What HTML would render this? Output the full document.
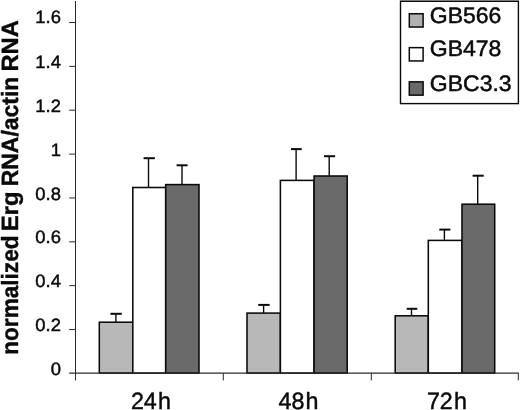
<!DOCTYPE html>
<html><head><meta charset="utf-8"><title>chart</title>
<style>
html,body{margin:0;padding:0;background:#fff;}
body{width:520px;height:410px;overflow:hidden;}
svg{display:block;}
text{font-family:"Liberation Sans",Arial,sans-serif;fill:#0a0a0a;stroke:#0a0a0a;stroke-width:0.45;text-rendering:geometricPrecision;}
.yt text{stroke-width:0.4;}
.lg text{stroke-width:0.5;}
</style></head><body>
<svg width="520" height="410" viewBox="0 0 520 410">
<rect width="520" height="410" fill="#fff"/>
<g stroke="#0a0a0a" stroke-width="1.55">
<rect x="99.3" y="322.2" width="33.5" height="50.9" fill="#b8b8b8"/>
<rect x="132.8" y="187.5" width="32.9" height="185.6" fill="#fff"/>
<rect x="165.7" y="184.6" width="33.3" height="188.5" fill="#6a6a6a"/>
<rect x="247.0" y="313.1" width="33.4" height="60.0" fill="#b8b8b8"/>
<rect x="280.4" y="180.4" width="33.7" height="192.7" fill="#fff"/>
<rect x="314.1" y="176.0" width="33.1" height="197.1" fill="#6a6a6a"/>
<rect x="395.2" y="315.8" width="33.1" height="57.3" fill="#b8b8b8"/>
<rect x="428.3" y="240.4" width="33.7" height="132.7" fill="#fff"/>
<rect x="462.0" y="204.2" width="32.7" height="168.9" fill="#6a6a6a"/>
</g>
<g stroke="#0a0a0a" stroke-width="1.4" fill="none">
<path d="M115.9 322.2V314.2"/>
<path d="M148.5 187.5V158.6"/>
<path d="M182.0 184.6V165.7"/>
<path d="M263.6 313.1V305.3"/>
<path d="M296.1 180.4V149.5"/>
<path d="M329.2 176.0V156.6"/>
<path d="M411.5 315.8V309.2"/>
<path d="M444.4 240.4V230.0"/>
<path d="M477.7 204.2V176.1"/>
</g>
<g stroke="#0a0a0a" stroke-width="2" fill="none">
<path d="M110.4 313.8H121.8"/>
<path d="M143.6 158.2H154.9"/>
<path d="M176.6 165.3H187.6"/>
<path d="M258.2 304.9H269.6"/>
<path d="M291.0 149.1H301.7"/>
<path d="M324.0 156.2H335.1"/>
<path d="M406.7 308.8H417.3"/>
<path d="M439.3 229.6H450.4"/>
<path d="M472.6 175.7H483.7"/>
</g>
<g stroke="#2a2a2a" stroke-width="1" fill="none">
<path d="M75.5 1V380.5"/>
<path d="M69.2 373.1H518.8" stroke-width="1.2"/>
<path d="M223.3 373.1V380.4"/>
<path d="M371.3 373.1V380.4"/>
<path d="M518.3 373.1V380.4"/>
<path d="M69.2 329.52H75.5"/>
<path d="M69.2 285.66H75.5"/>
<path d="M69.2 241.80H75.5"/>
<path d="M69.2 197.94H75.5"/>
<path d="M69.2 154.08H75.5"/>
<path d="M69.2 110.22H75.5"/>
<path d="M69.2 66.36H75.5"/>
<path d="M69.2 22.50H75.5"/>
</g>
<g font-size="17.8" text-anchor="end">
<text transform="translate(60.9 375.0) scale(1.035 1)">0</text>
<text transform="translate(60.9 331.0) scale(1.035 1)">0.2</text>
<text transform="translate(60.9 287.2) scale(1.035 1)">0.4</text>
<text transform="translate(60.9 243.3) scale(1.035 1)">0.6</text>
<text transform="translate(60.9 199.5) scale(1.035 1)">0.8</text>
<text transform="translate(60.9 155.6) scale(1.035 1)">1</text>
<text transform="translate(60.9 111.6) scale(1.035 1)">1.2</text>
<text transform="translate(60.9 67.7) scale(1.035 1)">1.4</text>
<text transform="translate(60.9 23.3) scale(1.035 1)">1.6</text>
</g>
<g font-size="23.6">
<text transform="translate(130.9 408.5) scale(0.987 1)">24<tspan dx="1.2">h</tspan></text>
<text transform="translate(278.5 408.5) scale(0.987 1)">48<tspan dx="1.2">h</tspan></text>
<text transform="translate(426.9 408.5) scale(0.987 1)">72<tspan dx="1.2">h</tspan></text>
</g>
<g class="yt" font-size="22.5" font-weight="bold">
<text transform="translate(18 354.8) rotate(-90) scale(1.005 1.045)">normalized</text>
<text transform="translate(18 231.3) rotate(-90) scale(1.06 1.045)">Erg</text>
<text transform="translate(18 186.3) rotate(-90) scale(1.02 1.045)">RNA/actin</text>
<text transform="translate(18 71.6) rotate(-90) scale(1.058 1.045)">RNA</text>
</g>
<path d="M399.9 0.3H519" stroke="#9a9a9a" stroke-width="0.7"/>
<rect x="400.5" y="1.3" width="117.9" height="102.3" fill="#fff" stroke="#0a0a0a" stroke-width="1.4"/>
<g stroke="#0a0a0a" stroke-width="1.5">
<rect x="409.3" y="13.75" width="13.8" height="13.3" fill="#b0b0b0"/>
<rect x="409.3" y="47.65" width="13.8" height="13.3" fill="#fff"/>
<rect x="409.3" y="81.85" width="13.8" height="13.3" fill="#6a6a6a"/>
</g>
<g class="lg" font-size="22.4">
<text transform="translate(429.8 22.5) scale(1.027 1)">GB566</text>
<text transform="translate(429.8 56.3) scale(1.027 1)">GB478</text>
<text transform="translate(429.8 90.6) scale(1.027 1)">GBC3.3</text>
</g>
</svg>
</body></html>
